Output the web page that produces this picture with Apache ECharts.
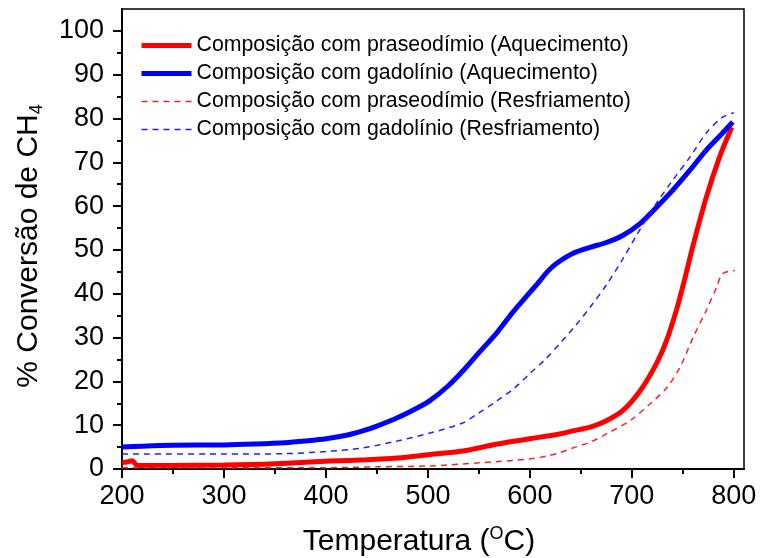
<!DOCTYPE html>
<html>
<head>
<meta charset="utf-8">
<script src="https://cdn.jsdelivr.net/npm/echarts@6/dist/echarts.min.js"></script>
<style>html,body{margin:0;padding:0;background:#fff}#c{width:762px;height:558px}</style>
</head>
<body>
<div id="c"></div>
<script>
// ---- data ----
const seriesNames = [
  'Composição com praseodímio (Aquecimento)',
  'Composição com gadolínio (Aquecimento)',
  'Composição com praseodímio (Resfriamento)',
  'Composição com gadolínio (Resfriamento)'
];
const prHeatT = [200,205,210,215,250,300,350,404,440,470,502,534,568,600,629,642,660,675,691,708,724,734,744,752,760,773,786,798];
const prHeat  = [1.5,1.6,1.9,0.8,0.8,0.9,1.2,1.8,2.1,2.5,3.3,4.1,5.7,6.9,8.0,8.7,9.6,11,13.3,17.8,24,29.3,36.5,43.5,51,62,71.2,78];
const gdHeatT = [200,220,250,300,330,360,380,400,420,436,450,470,490,502,520,534,551,568,583,600,610,617,626,642,659,675,691,708,724,740,757,773,789,799];
const gdHeat  = [5.0,5.2,5.4,5.5,5.7,6.0,6.4,6.9,7.7,8.7,9.8,11.7,14.0,15.6,19.0,22.3,26.8,31.2,35.7,40.3,43,45,46.9,49.2,50.6,51.7,53.3,56,59.7,63.6,68.2,72.8,76.7,79.2];
const prCoolT = [200,300,400,450,502,550,600,617,629,642,660,675,698,718,734,747,760,773,783,789,801];
const prCool  = [0.3,0.3,0.3,0.5,0.7,1.4,2.3,3.0,3.7,4.8,6.2,8,11,14.9,18.5,23.1,30,36.2,41.4,44.6,45.3];
const gdCoolT = [200,300,360,400,436,470,502,534,550,568,585,600,615,630,645,660,675,690,705,724,740,757,773,789,800];
const gdCool  = [3.4,3.4,3.5,4.0,4.8,6.4,8.2,10.5,12.8,15.6,18.5,21.8,25.0,28.8,32.8,37.2,42.0,47.5,53.5,60.6,65.9,71.2,76.7,80.3,81.3];
const xMajorTicks = [200,300,400,500,600,700,800];
const xMinorTicks = [250,350,450,550,650,750];
const yMajorTicks = [0,10,20,30,40,50,60,70,80,90,100];
const yMinorTicks = [5,15,25,35,45,55,65,75,85,95];

const pair = (t, v) => t.map((x, i) => [x, v[i]]);
const FONT = "'Liberation Sans', Arial, sans-serif";

const chart = echarts.init(document.getElementById('c'), null, {renderer: 'canvas'});
const baseX = {type: 'value', min: 200, max: 810, position: 'bottom', splitLine: {show: false}};
const baseY = {type: 'value', min: 0, max: 105, position: 'left', splitLine: {show: false}};
chart.setOption({
  animation: false,
  backgroundColor: '#fff',
  grid: {left: 122, right: 18, top: 9, bottom: 89, show: true, borderColor: '#000', borderWidth: 1.5,
         backgroundColor: 'transparent', containLabel: false, outerBoundsMode: 'none'},
  legend: {
    orient: 'vertical', left: 139, top: 35, padding: 0, itemWidth: 50, itemHeight: 14, itemGap: 7,
    itemStyle: {color: 'transparent', borderWidth: 0, opacity: 0},
    lineStyle: {width: 'inherit', type: 'inherit'},
    textStyle: {fontFamily: FONT, fontSize: 21.3, color: '#000', lineHeight: 21},
    data: seriesNames
  },
  xAxis: [
    Object.assign({}, baseX, {
      axisLine: {show: true, lineStyle: {color: '#000', width: 2}},
      axisTick: {show: true, customValues: xMajorTicks, length: 9, inside: false, lineStyle: {color: '#000', width: 2}},
      axisLabel: {show: true, customValues: xMajorTicks, fontFamily: FONT, fontSize: 27, color: '#000', margin: 14},
      name: '{a|Temperatura (}{o|O}{a|C)}',
      nameLocation: 'middle', nameGap: 56,
      nameTextStyle: {padding: [0, 28, 0, 0], rich: {
        a: {fontFamily: FONT, fontSize: 30, color: '#000'},
        o: {fontFamily: FONT, fontSize: 18, color: '#000', padding: [0, 0, 16, 0]}
      }}
    }),
    Object.assign({}, baseX, {
      axisLine: {show: false},
      axisTick: {show: true, customValues: xMinorTicks, length: 5, lineStyle: {color: '#000', width: 2}},
      axisLabel: {show: false}
    })
  ],
  yAxis: [
    Object.assign({}, baseY, {
      axisLine: {show: true, lineStyle: {color: '#000', width: 2}},
      axisTick: {show: true, customValues: yMajorTicks, length: 9, inside: false, lineStyle: {color: '#000', width: 2}},
      axisLabel: {show: true, customValues: yMajorTicks, fontFamily: FONT, fontSize: 27, color: '#000', margin: 18},
      name: '{a|% Conversão de CH}{s|4}',
      nameLocation: 'middle', nameGap: 76,
      nameTextStyle: {padding: [0, 14, 0, 0], rich: {
        a: {fontFamily: FONT, fontSize: 30, color: '#000'},
        s: {fontFamily: FONT, fontSize: 18, color: '#000', padding: [16, 0, 0, 0]}
      }}
    }),
    Object.assign({}, baseY, {
      axisLine: {show: false},
      axisTick: {show: true, customValues: yMinorTicks, length: 5, lineStyle: {color: '#000', width: 2}},
      axisLabel: {show: false}
    })
  ],
  series: [
    {name: seriesNames[0], type: 'line', data: pair(prHeatT, prHeat), showSymbol: false, symbol: 'none', smooth: 0.3,
     lineStyle: {color: '#ff0000', width: 5}, itemStyle: {color: '#ff0000'}, z: 3},
    {name: seriesNames[1], type: 'line', data: pair(gdHeatT, gdHeat), showSymbol: false, symbol: 'none', smooth: 0.3,
     lineStyle: {color: '#0000ff', width: 5}, itemStyle: {color: '#0000ff'}, z: 3},
    {name: seriesNames[2], type: 'line', data: pair(prCoolT, prCool), showSymbol: false, symbol: 'none', smooth: 0.3,
     lineStyle: {color: '#ff2020', width: 1.5, type: [6, 5]}, itemStyle: {color: '#ff2020'}, z: 4},
    {name: seriesNames[3], type: 'line', data: pair(gdCoolT, gdCool), showSymbol: false, symbol: 'none', smooth: 0.3,
     lineStyle: {color: '#2020ff', width: 1.5, type: [6, 5]}, itemStyle: {color: '#2020ff'}, z: 4}
  ]
});
</script>
</body>
</html>
